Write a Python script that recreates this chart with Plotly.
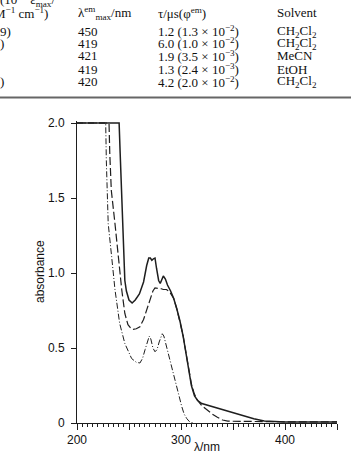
import plotly.graph_objects as go

# ---- data ----
wl_solid = [200, 240.5, 241.5, 242.5, 243.5, 244.5, 246, 247.5, 250, 253, 256, 260, 264, 267, 269, 270.5,
            272, 273.5, 275, 276.5, 278.5, 280, 281.5, 283, 285, 287, 290, 293, 296, 299, 302, 304, 307,
            310, 313, 316, 320, 330, 340, 350, 360, 370, 380, 390, 400, 420, 450]
abs_solid = [2.0, 2.0, 1.8, 1.6, 1.4, 1.11, 0.95, 0.88, 0.82, 0.80, 0.82, 0.86, 0.94, 1.05, 1.10, 1.10,
             1.085, 1.095, 1.10, 1.03, 0.95, 0.93, 0.96, 0.98, 0.96, 0.92, 0.88, 0.83, 0.76, 0.68, 0.58, 0.50, 0.37,
             0.25, 0.18, 0.15, 0.13, 0.11, 0.09, 0.072, 0.048, 0.028, 0.014, 0.009, 0.007, 0.006, 0.006]

wl_dash = [200, 230.8, 231.5, 233, 236.5, 239.7, 243, 246, 249, 252, 254, 257, 260.5, 264, 267, 270, 273,
           275, 278, 281, 283, 286, 289, 293, 296, 299, 302, 304, 307, 310, 312.5, 315, 320, 325, 330, 335,
           340, 345, 360, 400, 450]
abs_dash = [2.0, 2.0, 1.8, 1.55, 1.33, 1.11, 0.89, 0.73, 0.655, 0.63, 0.624, 0.628, 0.642, 0.69, 0.75, 0.82, 0.88,
            0.90, 0.90, 0.895, 0.89, 0.89, 0.875, 0.83, 0.76, 0.68, 0.585, 0.50, 0.38, 0.26, 0.20, 0.16, 0.115, 0.085,
            0.06, 0.038, 0.02, 0.012, 0.01, 0.008, 0.008]

wl_dashdot = [200, 227.6, 228.2, 228.8, 230, 233.3, 236.5, 241, 246, 252.5, 257, 260.5, 263, 265.5, 268, 269.5,
              271, 273, 275, 277, 279, 281, 282, 283.5, 286, 288.5, 291, 293.5, 296, 298.5, 300.7, 303, 305.5,
              308, 310, 313]
abs_dashdot = [2.0, 2.0, 1.75, 1.55, 1.33, 1.11, 0.89, 0.665, 0.53, 0.43, 0.405, 0.40, 0.43, 0.49, 0.55, 0.58,
               0.56, 0.50, 0.475, 0.49, 0.54, 0.58, 0.595, 0.58, 0.51, 0.44, 0.375, 0.31, 0.24, 0.17, 0.11, 0.06, 0.03,
               0.01, 0.003, 0.0]

y_tickvals = [0, 0.5, 1.0, 1.5, 2.0]
y_ticktext = ["0", "0.5", "1.0", "1.5", "2.0"]
x_label = "λ/nm"
y_label = "absorbance"

table_header_top = "(10<sup>−3</sup> ε<sub>max</sub>/"
table_header = ["M<sup>−1</sup> cm<sup>−1</sup>)", "λ<sup>em</sup><sub>max</sub>/nm", "τ/μs(φ<sup>em</sup>)", "Solvent"]
table_col1 = ["9)", ")", "", "", ")"]
table_lmax = ["450", "419", "421", "419", "420"]
table_tau = ["1.2 (1.3 × 10<sup>−2</sup>)", "6.0 (1.0 × 10<sup>−2</sup>)", "1.9 (3.5 × 10<sup>−3</sup>)",
             "1.3 (2.4 × 10<sup>−3</sup>)", "4.2 (2.0 × 10<sup>−2</sup>)"]
table_solv = ["CH<sub>2</sub>Cl<sub>2</sub>", "CH<sub>2</sub>Cl<sub>2</sub>", "MeCN", "EtOH", "CH<sub>2</sub>Cl<sub>2</sub>"]

# ---- layout geometry ----
W, H = 351, 455
ML, MR, MT, MB = 77, 14, 121, 32
PW, PH = W - ML - MR, H - MT - MB


def px2x(p):
    return (p - ML) / PW


def px2y(p):
    return (H - MB - p) / PH


ink = "#1e1e1e"
fig = go.Figure()
fig.add_trace(go.Scatter(x=wl_dashdot, y=abs_dashdot, mode="lines",
                         line=dict(color=ink, width=1, dash="6px,2px,1px,2px"), hoverinfo="skip"))
fig.add_trace(go.Scatter(x=wl_dash, y=abs_dash, mode="lines",
                         line=dict(color=ink, width=1.2, dash="8px,3px"), hoverinfo="skip"))
fig.add_trace(go.Scatter(x=wl_solid, y=abs_solid, mode="lines",
                         line=dict(color=ink, width=1.5), hoverinfo="skip"))

ann = []
serif = dict(family="Liberation Serif, Times New Roman, serif", size=13, color="#111")
sans = dict(family="Liberation Sans, Arial, sans-serif", size=12, color="#111")


def add_text(txt, xpx, ypx, font=serif, xanchor="left", angle=0):
    ann.append(dict(text=txt, x=px2x(xpx), y=px2y(ypx), xref="paper", yref="paper",
                    xanchor=xanchor, yanchor="middle", showarrow=False, font=font, textangle=angle))


add_text(table_header_top, -2, 0)
add_text(table_header[0], -8, 13)
add_text(table_header[1], 76, 13)
add_text(table_header[2], 156, 13)
add_text(table_header[3], 275, 13)
row_y = [31, 43, 56, 69, 82]
for i, ry in enumerate(row_y):
    if table_col1[i]:
        add_text(table_col1[i], -2, ry)
    add_text(table_lmax[i], 76, ry)
    add_text(table_tau[i], 156, ry)
    add_text(table_solv[i], 275, ry)

# axis titles
add_text(x_label, ML + PW / 2, 447, font=sans, xanchor="center")
add_text(y_label, 40, 272, font=sans, xanchor="center", angle=-90)

shapes = [dict(type="line", xref="paper", yref="paper", x0=px2x(-5), x1=px2x(360),
               y0=px2y(97.5), y1=px2y(97.5), line=dict(color="#666", width=2))]

fig.update_layout(
    width=W, height=H,
    margin=dict(l=ML, r=MR, t=MT, b=MB, pad=0, autoexpand=False),
    paper_bgcolor="white", plot_bgcolor="white",
    showlegend=False,
    font=sans,
    annotations=ann,
    shapes=shapes,
    xaxis=dict(range=[200, 450], showline=True, linecolor=ink, linewidth=1, showgrid=False, zeroline=False,
               automargin=False,
               ticks="outside", ticklen=6, tickwidth=1, tickcolor=ink, dtick=50, tick0=200,
               labelalias={"250": " ", "350": " ", "450": " "},
               minor=dict(dtick=5, ticks="outside", ticklen=3, tickcolor=ink, showgrid=False),
               tickfont=sans),
    yaxis=dict(range=[0, 2.0133], showline=True, linecolor=ink, linewidth=1, showgrid=False, zeroline=False,
               automargin=False,
               ticks="outside", ticklen=5, tickwidth=1, tickcolor=ink, ticklabelstandoff=4,
               tickvals=y_tickvals, ticktext=y_ticktext, tickfont=sans),
)

fig.write_html("out.html")
